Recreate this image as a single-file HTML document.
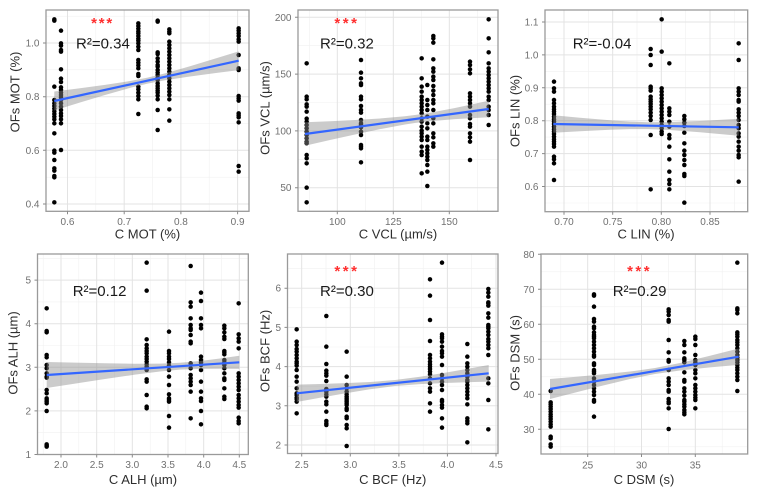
<!DOCTYPE html>
<html><head><meta charset="utf-8"><style>
html,body{margin:0;padding:0;background:#fff}
svg{display:block}
.tl{font-family:"Liberation Sans",Arial,sans-serif;font-size:10px;fill:#707070}
.ti{font-family:"Liberation Sans",Arial,sans-serif;font-size:13px;fill:#2e2e2e}
.r2{font-family:"Liberation Sans",Arial,sans-serif;font-size:15px;fill:#1a1a1a}
.st{font-family:"Liberation Sans",Arial,sans-serif;font-size:15px;font-weight:bold;fill:#ff3030}
.gM{stroke:#e3e3e3;stroke-width:1;fill:none}
.gm{stroke:#f1f1f1;stroke-width:.6;fill:none}
.bd{stroke:#9a9a9a;stroke-width:1.3;fill:none}
.tk{stroke:#8a8a8a;stroke-width:1;fill:none}
.band{fill:#8c8c8c;fill-opacity:.45;stroke:none}
.fit{stroke:#3366ff;stroke-width:2.2;fill:none}
.pts{fill:none;stroke:none}
</style></head><body>
<svg width="757" height="492" viewBox="0 0 757 492" xmlns="http://www.w3.org/2000/svg">
<defs>
<marker id="d" viewBox="-1 -1 2 2" markerWidth="13.5" markerHeight="13.5" markerUnits="userSpaceOnUse" refX="0" refY="0" overflow="visible"><circle r="1" fill="#000"/></marker>
</defs>

<!-- GRIDS -->
<path class="gm" d="M95.8 10V211.3M152.5 10V211.3M209.2 10V211.3M46 177.2H249M46 123.5H249M46 69.8H249M46 16.2H249"/>
<path class="gM" d="M67.5 10V211.3M124.2 10V211.3M180.9 10V211.3M237.6 10V211.3M46 204H249M46 150.3H249M46 96.7H249M46 43H249"/>
<path class="gm" d="M309.3 10V211.3M365.3 10V211.3M421.3 10V211.3M477.3 10V211.3M298 159.3H498M298 102.5H498M298 45.7H498"/>
<path class="gM" d="M337.3 10V211.3M393.3 10V211.3M449.3 10V211.3M298 187.7H498M298 130.9H498M298 74.1H498M298 17.3H498"/>
<path class="gm" d="M588.3 10V211.7M637 10V211.7M685.7 10V211.7M734.3 10V211.7M545 203H747.7M545 170H747.7M545 137.1H747.7M545 104.2H747.7M545 71.3H747.7M545 38.4H747.7"/>
<path class="gM" d="M564 10V211.7M612.7 10V211.7M661.3 10V211.7M710 10V211.7M545 186.5H747.7M545 153.6H747.7M545 120.7H747.7M545 87.8H747.7M545 54.9H747.7M545 22H747.7"/>
<path class="gm" d="M43.2 254V454.5M78.8 254V454.5M114.5 254V454.5M150.2 254V454.5M185.8 254V454.5M221.5 254V454.5M37.5 432.7H248.3M37.5 389.1H248.3M37.5 345.5H248.3M37.5 301.9H248.3M37.5 258.3H248.3"/>
<path class="gM" d="M61 254V454.5M96.7 254V454.5M132.3 254V454.5M168 254V454.5M203.7 254V454.5M239.3 254V454.5M37.5 410.9H248.3M37.5 367.3H248.3M37.5 323.7H248.3M37.5 280.1H248.3"/>
<path class="gm" d="M326 254V453.5M374.6 254V453.5M423.2 254V453.5M471.7 254V453.5M287.5 425.4H498M287.5 386.2H498M287.5 347H498M287.5 307.8H498M287.5 268.6H498"/>
<path class="gM" d="M301.7 254V453.5M350.3 254V453.5M398.9 254V453.5M447.4 254V453.5M496 254V453.5M287.5 445H498M287.5 405.8H498M287.5 366.6H498M287.5 327.4H498M287.5 288.2H498"/>
<path class="gm" d="M560.8 254V454M614.6 254V454M668.4 254V454M722.2 254V454M541 446.8H747.7M541 411.8H747.7M541 376.8H747.7M541 341.8H747.7M541 306.8H747.7M541 271.8H747.7"/>
<path class="gM" d="M587.7 254V454M641.5 254V454M695.3 254V454M541 429.3H747.7M541 394.3H747.7M541 359.3H747.7M541 324.3H747.7M541 289.3H747.7M541 254.3H747.7"/>

<!-- POINTS -->
<g transform="translate(0 0) scale(0.333333)">
<polyline class="pts" marker-start="url(#d)" marker-mid="url(#d)" marker-end="url(#d)" points="163,58 163,62 163,260 163,300 163,310 163,318 163,326 163,334 163,342 163,350 163,358 163,370 163,400 163,452 163,458 163,480 163,505 163,512 163,528 163,532 163,607 183,92 183,130 183,137 183,150 183,155 183,208 183,236 183,246 183,262 183,270 183,278 183,285 183,292 183,300 183,310 183,320 183,330 183,340 183,348 183,358 183,370 183,450 415,70 415,78 415,86 415,94 415,100 415,108 415,116 415,122 415,130 415,140 415,150 415,180 415,188 415,196 415,205 415,222 415,228 415,260 415,268 415,278 415,288 415,298 415,342 473,62 473,65 473,157 473,162 473,175 473,185 473,195 473,200 473,210 473,218 473,225 473,233 473,240 473,250 473,258 473,265 473,272 473,278 473,287 473,298 473,330 473,390 508,88 508,95 508,100 508,125 508,135 508,145 508,155 508,165 508,175 508,185 508,195 508,205 508,215 508,225 508,235 508,245 508,255 508,265 508,275 508,285 508,298 508,328 508,362 716,85 716,92 716,100 716,108 716,118 716,125 716,165 716,205 716,210 716,288 716,295 716,302 716,340 716,346 716,352 716,367 716,498 716,515"/>
</g>
<g transform="translate(250 0) scale(0.333333)">
<polyline class="pts" marker-start="url(#d)" marker-mid="url(#d)" marker-end="url(#d)" points="170,190 170,290 170,298 170,313 170,320 170,335 170,356 170,365 170,375 170,385 170,395 170,405 170,415 170,425 170,430 170,465 170,475 170,490 170,563 170,607 333,180 333,218 333,235 333,250 333,255 333,290 333,298 333,318 333,330 333,338 333,360 333,370 333,375 333,382 333,395 333,405 333,435 333,440 333,445 333,487 515,175 515,235 515,260 515,275 515,290 515,300 515,310 515,320 515,330 515,340 515,355 515,365 515,380 515,392 515,400 515,410 515,420 515,440 515,455 515,465 515,520 532,255 532,300 532,315 532,330 532,350 532,370 532,385 532,410 532,420 532,440 532,450 532,460 532,470 532,480 532,495 532,515 532,558 550,108 550,115 550,128 550,178 550,205 550,215 550,230 550,240 550,258 550,272 550,285 550,300 550,310 550,330 550,355 550,370 550,400 550,412 550,430 550,440 660,185 660,195 660,208 660,220 660,280 660,290 660,300 660,310 660,320 660,345 660,355 660,372 660,380 660,400 660,412 660,425 660,480 716,58 716,115 716,157 716,190 716,205 716,215 716,225 716,235 716,245 716,255 716,265 716,275 716,290 716,300 716,320 716,330 716,345 716,375"/>
</g>
<g transform="translate(500 0) scale(0.333333)">
<polyline class="pts" marker-start="url(#d)" marker-mid="url(#d)" marker-end="url(#d)" points="162,245 162,265 162,275 162,300 162,310 162,320 162,328 162,335 162,342 162,350 162,358 162,365 162,372 162,380 162,388 162,395 162,402 162,410 162,418 162,425 162,432 162,440 162,470 162,478 162,490 162,540 452,147 452,165 452,195 452,260 452,265 452,272 452,290 452,298 452,305 452,312 452,320 452,328 452,338 452,348 452,360 452,405 452,568 485,58 485,155 485,265 485,275 485,285 485,295 485,305 485,315 485,325 485,335 485,345 485,355 485,365 485,375 485,385 485,395 485,402 508,190 508,325 508,335 508,345 508,365 508,380 508,405 508,415 508,440 508,478 508,515 508,540 508,552 508,568 553,348 553,358 553,368 553,378 553,398 553,430 553,452 553,465 553,480 553,495 553,522 553,528 553,608 716,130 716,180 716,265 716,275 716,285 716,300 716,305 716,328 716,338 716,348 716,360 716,375 716,385 716,400 716,410 716,425 716,440 716,452 716,465 716,472 716,545"/>
</g>
<g transform="translate(0 245) scale(0.333333)">
<polyline class="pts" marker-start="url(#d)" marker-mid="url(#d)" marker-end="url(#d)" points="140,190 140,258 140,262 140,330 140,337 140,360 140,370 140,385 140,395 140,398 140,435 140,445 140,460 140,465 140,470 140,475 140,498 140,598 140,602 140,605 440,53 440,137 440,283 440,300 440,310 440,318 440,325 440,335 440,342 440,350 440,358 440,365 440,375 440,403 440,410 440,450 440,485 440,490 507,260 507,318 507,325 507,335 507,342 507,352 507,362 507,375 507,395 507,420 507,448 507,460 507,465 507,470 507,513 507,548 572,63 572,172 572,185 572,220 572,240 572,250 572,255 572,270 572,290 572,295 572,355 572,370 572,390 572,400 572,410 572,420 572,440 572,520 603,143 603,168 603,220 603,240 603,250 603,335 603,345 603,352 603,360 603,375 603,410 603,440 603,460 603,468 603,498 603,538 673,242 673,250 673,262 673,275 673,282 673,318 673,322 673,328 673,345 673,352 673,360 673,370 673,385 673,400 673,405 673,430 673,455 673,462 716,175 716,268 716,280 716,290 716,310 716,385 716,395 716,405 716,415 716,425 716,435 716,450 716,460 716,470 716,480 716,488 716,518 716,528 716,535"/>
</g>
<g transform="translate(250 245) scale(0.333333)">
<polyline class="pts" marker-start="url(#d)" marker-mid="url(#d)" marker-end="url(#d)" points="140,253 140,290 140,300 140,312 140,320 140,330 140,340 140,350 140,355 140,362 140,375 140,395 140,410 140,430 140,445 140,450 140,458 140,462 140,470 140,505 229,213 229,305 229,357 229,377 229,385 229,392 229,408 229,432 229,440 229,448 229,455 229,470 229,478 229,500 229,528 229,535 229,540 290,320 290,395 290,420 290,430 290,440 290,448 290,455 290,460 290,465 290,470 290,475 290,480 290,490 290,495 290,515 290,520 290,540 290,550 290,603 540,103 540,152 540,225 540,288 540,330 540,340 540,350 540,358 540,365 540,372 540,380 540,388 540,400 540,415 540,430 540,440 540,475 540,500 576,53 576,268 576,275 576,280 576,290 576,305 576,318 576,325 576,335 576,360 576,390 576,400 576,410 576,420 576,435 576,465 576,470 576,480 576,488 576,520 576,548 652,297 652,335 652,355 652,365 652,375 652,385 652,395 652,405 652,410 652,420 652,430 652,440 652,450 652,460 652,478 652,520 652,528 652,535 652,592 715,132 715,143 715,155 715,172 715,175 715,182 715,205 715,218 715,240 715,245 715,250 715,260 715,270 715,282 715,290 715,300 715,310 715,330 715,400 715,415 715,465 715,553"/>
</g>
<g transform="translate(500 245) scale(0.333333)">
<polyline class="pts" marker-start="url(#d)" marker-mid="url(#d)" marker-end="url(#d)" points="152,438 152,472 152,478 152,485 152,492 152,500 152,508 152,515 152,522 152,530 152,538 152,545 152,575 152,580 152,598 152,605 282,148 282,152 282,185 282,222 282,230 282,245 282,250 282,262 282,270 282,275 282,280 282,290 282,300 282,310 282,320 282,330 282,335 282,355 282,360 282,375 282,380 282,385 282,400 282,410 282,420 282,430 282,440 282,450 282,465 282,470 282,515 506,193 506,200 506,210 506,225 506,230 506,285 506,322 506,345 506,350 506,375 506,400 506,410 506,420 506,435 506,440 506,462 506,470 506,475 506,490 506,552 553,288 553,300 553,322 553,340 553,345 553,352 553,382 553,405 553,410 553,430 553,440 553,452 553,465 553,470 553,478 553,485 553,495 553,502 553,508 586,275 586,282 586,300 586,330 586,345 586,352 586,360 586,375 586,385 586,400 586,420 586,430 586,440 586,450 586,458 586,465 586,490 712,53 712,190 712,195 712,205 712,262 712,268 712,275 712,285 712,292 712,300 712,310 712,320 712,330 712,338 712,345 712,352 712,360 712,368 712,375 712,385 712,395 712,405 712,438"/>
</g>

<!-- BANDS + FITS -->
<polygon class="band" points="54.3,91.52 80,88.22 105,84.86 130,81.03 147,77.74 165,73.33 190,66.2 215,58.63 238.7,51.32 238.7,70.08 215,73.11 190,76.48 165,80.27 147,83.74 130,87.87 105,94.98 80,102.54 54.3,110.48"/>
<line class="fit" x1="54.3" y1="101" x2="238.7" y2="60.7"/>
<polygon class="band" points="305,122.3 330,121.19 355,119.96 380,118.45 405,116.26 415.7,114.93 430,112.75 455,108 488.7,100.72 488.7,117.28 455,119.18 430,121.23 415.7,122.93 405,124.54 380,129.15 355,134.44 330,140.01 305,145.7"/>
<line class="fit" x1="305" y1="134" x2="488.7" y2="109"/>
<polygon class="band" points="553.3,115.2 580,117.71 610,120.26 630,121.58 648,122.23 670,122.14 700,120.98 738.7,118.81 738.7,135.79 700,132.24 670,130.02 648,129.15 630,129.16 610,129.76 580,131.25 553.3,132.8"/>
<line class="fit" x1="553.3" y1="124" x2="738.7" y2="127.3"/>
<polygon class="band" points="46.7,362 75,362.67 105,363.3 135,363.71 160,363.59 180,362.76 200,360.96 220,358.47 239.3,355.73 239.3,368.87 220,368.69 200,368.84 180,369.68 160,371.47 135,374.65 105,379.02 75,383.59 46.7,388"/>
<line class="fit" x1="46.7" y1="375" x2="239.3" y2="362.3"/>
<polygon class="band" points="296.7,384.6 320,383.96 345,383.15 370,382.01 395,380.06 420,376.8 445,372.73 470,368.34 488.7,364.96 488.7,381.64 470,382.16 445,382.97 420,384.1 395,386.06 370,389.31 345,393.39 320,397.78 296.7,402"/>
<line class="fit" x1="296.7" y1="393.3" x2="488.7" y2="373.3"/>
<polygon class="band" points="550,379 575,376.86 600,374.61 630,371.54 655,368.02 680,362.98 710,355.77 738.7,348.53 738.7,364.87 710,367.43 680,370.5 655,374.02 630,379.06 600,386.27 575,392.58 550,399"/>
<line class="fit" x1="550" y1="389" x2="738.7" y2="356.7"/>

<!-- BORDERS -->
<rect class="bd" x="46" y="10" width="203" height="201.3"/>
<rect class="bd" x="298" y="10" width="200" height="201.3"/>
<rect class="bd" x="545" y="10" width="202.7" height="201.7"/>
<rect class="bd" x="37.5" y="254" width="210.8" height="200.5"/>
<rect class="bd" x="287.5" y="254" width="210.5" height="199.5"/>
<rect class="bd" x="541" y="254" width="206.7" height="200"/>

<!-- TICKS -->
<path class="tk" d="M43 204H46M43 150.3H46M43 96.7H46M43 43H46M67.5 211.3V214.3M124.2 211.3V214.3M180.9 211.3V214.3M237.6 211.3V214.3"/>
<path class="tk" d="M295 187.7H298M295 130.9H298M295 74.1H298M295 17.3H298M337.3 211.3V214.3M393.3 211.3V214.3M449.3 211.3V214.3"/>
<path class="tk" d="M542 186.5H545M542 153.6H545M542 120.7H545M542 87.8H545M542 54.9H545M542 22H545M564 211.7V214.7M612.7 211.7V214.7M661.3 211.7V214.7M710 211.7V214.7"/>
<path class="tk" d="M34.5 454.5H37.5M34.5 410.9H37.5M34.5 367.3H37.5M34.5 323.7H37.5M34.5 280.1H37.5M61 454.5V457.5M96.7 454.5V457.5M132.3 454.5V457.5M168 454.5V457.5M203.7 454.5V457.5M239.3 454.5V457.5"/>
<path class="tk" d="M284.5 445H287.5M284.5 405.8H287.5M284.5 366.6H287.5M284.5 327.4H287.5M284.5 288.2H287.5M301.7 453.5V456.5M350.3 453.5V456.5M398.9 453.5V456.5M447.4 453.5V456.5M496 453.5V456.5"/>
<path class="tk" d="M538 429.3H541M538 394.3H541M538 359.3H541M538 324.3H541M538 289.3H541M538 254.3H541M587.7 454V457M641.5 454V457M695.3 454V457"/>

<!-- TICK LABELS -->
<g class="tl" text-anchor="end">
<text x="39.5" y="207.5">0.4</text><text x="39.5" y="153.8">0.6</text><text x="39.5" y="100.2">0.8</text><text x="39.5" y="46.5">1.0</text>
<text x="291.5" y="191.2">50</text><text x="291.5" y="134.4">100</text><text x="291.5" y="77.6">150</text><text x="291.5" y="20.8">200</text>
<text x="538.5" y="190">0.6</text><text x="538.5" y="157.1">0.7</text><text x="538.5" y="124.2">0.8</text><text x="538.5" y="91.3">0.9</text><text x="538.5" y="58.4">1.0</text><text x="538.5" y="25.5">1.1</text>
<text x="31" y="458">1</text><text x="31" y="414.4">2</text><text x="31" y="370.8">3</text><text x="31" y="327.2">4</text><text x="31" y="283.6">5</text>
<text x="281" y="448.5">2</text><text x="281" y="409.3">3</text><text x="281" y="370.1">4</text><text x="281" y="330.9">5</text><text x="281" y="291.7">6</text>
<text x="534.5" y="432.8">30</text><text x="534.5" y="397.8">40</text><text x="534.5" y="362.8">50</text><text x="534.5" y="327.8">60</text><text x="534.5" y="292.8">70</text><text x="534.5" y="257.8">80</text>
</g>
<g class="tl" text-anchor="middle">
<text x="67.5" y="224.8">0.6</text><text x="124.2" y="224.8">0.7</text><text x="180.9" y="224.8">0.8</text><text x="237.6" y="224.8">0.9</text>
<text x="337.3" y="224.8">100</text><text x="393.3" y="224.8">125</text><text x="449.3" y="224.8">150</text>
<text x="564" y="224.8">0.70</text><text x="612.7" y="224.8">0.75</text><text x="661.3" y="224.8">0.80</text><text x="710" y="224.8">0.85</text>
<text x="61" y="467.8">2.0</text><text x="96.7" y="467.8">2.5</text><text x="132.3" y="467.8">3.0</text><text x="168" y="467.8">3.5</text><text x="203.7" y="467.8">4.0</text><text x="239.3" y="467.8">4.5</text>
<text x="301.7" y="467.8">2.5</text><text x="350.3" y="467.8">3.0</text><text x="398.9" y="467.8">3.5</text><text x="447.4" y="467.8">4.0</text><text x="496" y="467.8">4.5</text>
<text x="587.7" y="468.5">25</text><text x="641.5" y="468.5">30</text><text x="695.3" y="468.5">35</text>
</g>

<!-- AXIS TITLES -->
<g class="ti" text-anchor="middle">
<text x="147.5" y="238.5">C MOT (%)</text>
<text x="398" y="238.5">C VCL (µm/s)</text>
<text x="646" y="238.5">C LIN (%)</text>
<text x="143" y="484">C ALH (µm)</text>
<text x="392.7" y="484">C BCF (Hz)</text>
<text x="644" y="484">C DSM (s)</text>
<text transform="translate(19.7 92) rotate(-90)">OFs MOT (%)</text>
<text transform="translate(269.7 108) rotate(-90)">OFs VCL (µm/s)</text>
<text transform="translate(519.7 111) rotate(-90)">OFs LIN (%)</text>
<text transform="translate(17.7 353) rotate(-90)">OFs ALH (µm)</text>
<text transform="translate(269.7 351) rotate(-90)">OFs BCF (Hz)</text>
<text transform="translate(519.7 353) rotate(-90)">OFs DSM (s)</text>
</g>

<!-- R2 LABELS -->
<g class="r2">
<text x="76" y="48.7">R²=0.34</text>
<text x="320" y="48.7">R²=0.32</text>
<text x="572.7" y="48.7">R²=-0.04</text>
<text x="72.7" y="296">R²=0.12</text>
<text x="320" y="296">R²=0.30</text>
<text x="612.7" y="296">R²=0.29</text>
</g>

<!-- SIGNIFICANCE STARS -->
<g class="st" text-anchor="middle">
<text x="94" y="27.9">*</text><text x="101.7" y="27.9">*</text><text x="109.3" y="27.9">*</text>
<text x="337.3" y="27.9">*</text><text x="345.7" y="27.9">*</text><text x="354" y="27.9">*</text>
<text x="337.3" y="275.9">*</text><text x="345.7" y="275.9">*</text><text x="354" y="275.9">*</text>
<text x="630" y="275.9">*</text><text x="638.3" y="275.9">*</text><text x="646.7" y="275.9">*</text>
</g>
</svg>
</body></html>
